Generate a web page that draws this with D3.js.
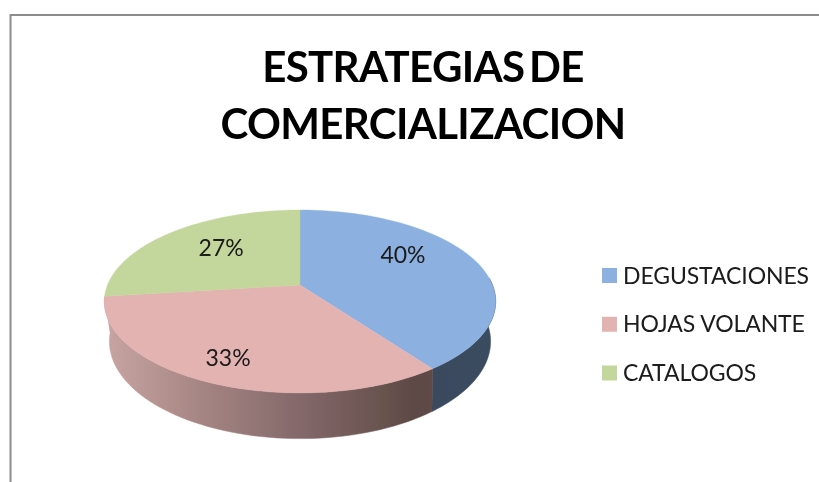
<!DOCTYPE html>
<html><head><meta charset="utf-8">
<script src="https://cdnjs.cloudflare.com/ajax/libs/d3/7.8.5/d3.min.js"></script>
<style>html,body{margin:0;padding:0;background:#fff}svg{display:block}text{font-family:Lato,"Open Sans",sans-serif}</style>
</head><body><svg id="c" width="819" height="482"></svg>
<script>
const categories = ["DEGUSTACIONES","HOJAS VOLANTE","CATALOGOS"];
const values = [40,33,27];
const labels = ["40%","33%","27%"];
const topColors = ["#8cb1e0","#e3b3b2","#c3d69b"];
const titleLines = ["ESTRATEGIAS DE","COMERCIALIZACION"];

const svg = d3.select("#c");
const defs = svg.append("defs");
const blur = defs.append("filter").attr("id","soft").attr("x","-5%").attr("y","-5%").attr("width","110%").attr("height","110%");
blur.append("feGaussianBlur").attr("stdDeviation",0.45);

// frame
const frame=d3.path();frame.moveTo(10.5,482);frame.lineTo(10.5,15);frame.lineTo(819,15);
svg.append("path").attr("d",frame.toString()).attr("fill","none").attr("stroke","#8c8c8c").attr("stroke-width",2);

// title
svg.append("g").selectAll("text").data(titleLines).join("text")
  .attr("x",423).attr("y",(d,i)=>82+i*57).attr("text-anchor","middle")
  .attr("font-size",42).attr("font-weight",700).attr("fill","#000")
  .style("letter-spacing","-0.65px").style("word-spacing","-5px")
  .attr("filter","url(#soft)").text(d=>d);

// perspective projection of the pie disc
const cx=300, cy=285, B=192.5, b=88.5;
const project=(a,r,sx,sy,dy,k)=>{
  const s=Math.sin(a)*r, w=-Math.cos(a)*r, den=1+k*w;
  return [cx+sx*B*s/den, cy+dy+sy*b*w/den];
};
const pie=d3.pie().sort(null).value(d=>d)(values);
const samples=(a0,a1)=>d3.range(0,61).map(i=>a0+(a1-a0)*i/60);
const line=d3.line();
const rimTop=a=>project(a,1,1,1,0,-0.18);
const rimBot=a=>project(a,1,0.968,1.05,36,-0.21);

// side gradients
const g1=defs.append("linearGradient").attr("id","side1").attr("gradientUnits","userSpaceOnUse").attr("x1",104).attr("x2",496).attr("y1",0).attr("y2",0);
[[0,"#c8a5a3"],[0.25,"#a58583"],[0.5,"#84686a"],[0.7,"#6a5450"],[0.8,"#5c4845"],[0.84,"#5f4b47"],[1,"#6a5653"]].forEach(s=>g1.append("stop").attr("offset",s[0]).attr("stop-color",s[1]));
const g0=defs.append("linearGradient").attr("id","side0").attr("gradientUnits","userSpaceOnUse").attr("x1",430).attr("x2",496).attr("y1",0).attr("y2",0);
[[0,"#3a4a5f"],[1,"#3b4b60"]].forEach(s=>g0.append("stop").attr("offset",s[0]).attr("stop-color",s[1]));

const sideFill=["url(#side0)","url(#side1)"];
const chart=svg.append("g").attr("filter","url(#soft)");
pie.forEach((d,i)=>{
  if(i>1) return;
  const lo=d.startAngle, hi=d.endAngle;
  const a0=Math.max(lo,Math.PI/2*0.95), a1=Math.min(hi,Math.PI*1.55);
  const ring=samples(a0,a1);
  const pts=ring.map(rimTop).concat(ring.slice().reverse().map(rimBot));
  chart.append("path").attr("d",line(pts)+"Z").attr("fill",sideFill[i]).attr("stroke",sideFill[i]).attr("stroke-width",0.5);
});
pie.forEach((d,i)=>{
  const pts=[project(0,0,1,1,0,-0.18)].concat(samples(d.startAngle,d.endAngle).map(rimTop));
  chart.append("path").attr("d",line(pts)+"Z").attr("fill",topColors[i]).attr("stroke",topColors[i]).attr("stroke-width",0.4);
});

// data labels placed in the disc's own polar coordinates
const labelRadius=[0.675,0.788,0.633];
const labelShift=[-14.4,1,4.2].map(v=>v*Math.PI/180);
const labelPos=pie.map((d,i)=>project((d.startAngle+d.endAngle)/2+labelShift[i],labelRadius[i],1,1,0,-0.18));
svg.append("g").selectAll("text").data(labels).join("text")
  .attr("x",(d,i)=>labelPos[i][0]).attr("y",(d,i)=>labelPos[i][1]+8)
  .attr("text-anchor","middle").attr("font-size",23).attr("fill","#1a1a1a")
  .attr("filter","url(#soft)").text(d=>d);

// legend
const ly=d3.scalePoint().domain(categories).range([275.5,373]);
const lg=svg.append("g").attr("filter","url(#soft)").selectAll("g").data(categories).join("g")
  .attr("transform",d=>`translate(0,${ly(d)})`);
lg.append("rect").attr("x",602).attr("y",-7.5).attr("width",15).attr("height",15).attr("fill",(d,i)=>topColors[i]);
lg.append("text").attr("x",623).attr("y",8).attr("font-size",23).attr("fill","#1a1a1a").style("letter-spacing","-0.1px").text(d=>d);
</script></body></html>
